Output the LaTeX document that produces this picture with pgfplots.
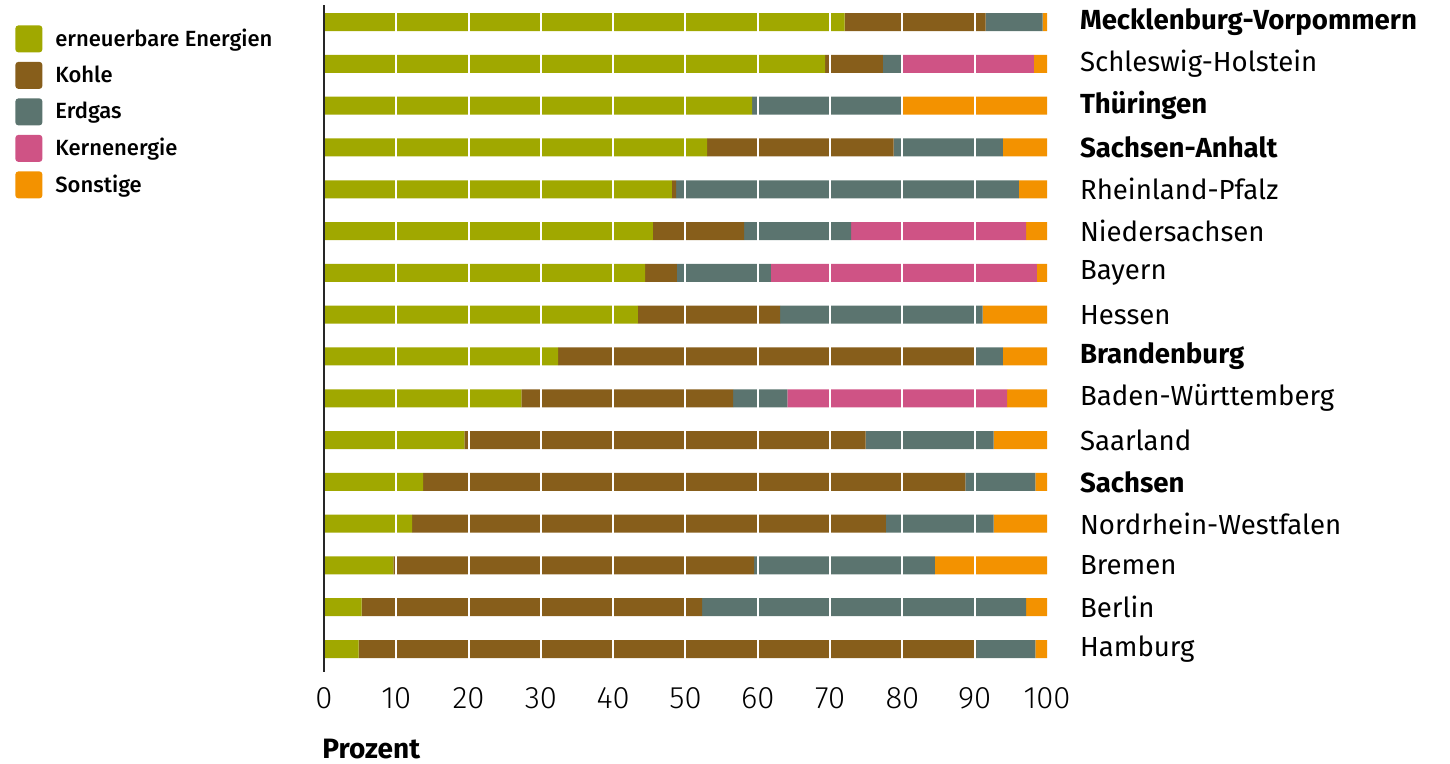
\documentclass[border=0pt]{standalone}
\usepackage{pgfplots}
\pgfplotsset{compat=1.18}
\usepackage{pgfplotstable}
\usepackage{fontspec}
\setmainfont{Fira Sans}
\newfontfamily\fslight{Fira Sans Light}
\newfontfamily\fsmed{Fira Sans Medium}
\definecolor{cEE}{RGB}{160,168,0}
\definecolor{cKohle}{RGB}{135,94,27}
\definecolor{cGas}{RGB}{91,116,111}
\definecolor{cKern}{RGB}{207,83,133}
\definecolor{cSonst}{RGB}{243,146,0}
\pgfplotstableread{
y EE Kohle Gas Kern Sonst
15 72.0 19.5 7.9 0 0.6
14 69.3 8.0 2.7 18.2 1.8
13 59.2 0 20.6 0 20.2
12 53.0 25.8 15.1 0 6.1
11 48.1 0.6 47.4 0 3.9
10 45.5 12.6 14.8 24.2 2.9
9 44.4 4.4 13.0 36.8 1.4
8 43.4 19.7 28.0 0 8.9
7 32.4 57.6 3.9 0 6.1
6 27.3 29.3 7.5 30.4 5.5
5 19.4 55.5 17.7 0 7.4
4 13.7 75.0 9.7 0 1.6
3 12.2 65.5 14.9 0 7.4
2 9.6 49.9 25.0 0 15.5
1 5.2 47.1 44.8 0 2.9
0 4.8 85.4 8.2 0 1.6
}\data
\begin{document}
\begin{tikzpicture}
\begin{axis}[
  xbar stacked,
  scale only axis,
  width=361.5pt, height=333.5pt,
  xmin=0, xmax=100, ymin=-0.55, ymax=15.41,
  bar width=9pt,
  axis on top,
  axis line style={draw=none},
  major tick length=0pt,
  xtick={10,20,...,90},
  extra x ticks={0,100},
  extra x tick style={grid=none},
  xmajorgrids,
  grid style={white, line width=1pt},
  ytick={0,...,15},
  yticklabels={Hamburg, Berlin, Bremen, Nordrhein-Westfalen, {\bfseries Sachsen}, Saarland, Baden-Württemberg, {\bfseries Brandenburg}, Hessen, Bayern, Niedersachsen, Rheinland-Pfalz, {\bfseries Sachsen-Anhalt}, {\bfseries Thüringen}, Schleswig-Holstein, {\bfseries Mecklenburg-Vorpommern}},
  yticklabel pos=right,
  yticklabel style={anchor=west, xshift=13pt, font=\fontsize{13.8}{16}\selectfont},
  xticklabel style={font=\fslight\fontsize{15.5}{17}\selectfont, yshift=-4pt},
  /pgf/number format/assume math mode=true,
  clip=false,
  legend image code/.code={\fill[#1, rounded corners=1.5pt] (0pt,-6.75pt) rectangle (13.5pt,6.75pt);},
  legend style={at={(axis description cs:0,1)}, anchor=north west, xshift=-154.5pt, yshift=-10pt, draw=none, fill=none, font=\fsmed\fontsize{11}{12}\selectfont, row sep=4.75pt, inner sep=0pt, nodes={inner sep=0pt, anchor=west}, /tikz/every odd column/.append style={column sep=6.5pt}},
  legend cell align=left,
]
\addplot[draw=none, fill=cEE] table[x=EE, y=y] {\data};
\addlegendentry{erneuerbare Energien}
\addplot[draw=none, fill=cKohle] table[x=Kohle, y=y] {\data};
\addlegendentry{Kohle}
\addplot[draw=none, fill=cGas] table[x=Gas, y=y] {\data};
\addlegendentry{Erdgas}
\addplot[draw=none, fill=cKern] table[x=Kern, y=y] {\data};
\addlegendentry{Kernenergie}
\addplot[draw=none, fill=cSonst] table[x=Sonst, y=y] {\data};
\addlegendentry{Sonstige}
\coordinate (tl) at (axis description cs:0,1);
\coordinate (bl) at (axis description cs:0,0);
\end{axis}
\draw[black!85, line width=1pt] (bl) -- (tl);
\node[anchor=base west, font=\bfseries\fontsize{14}{16}\selectfont, inner sep=0pt] at ([xshift=-1pt, yshift=-43.5pt]bl) {Prozent};
\path ([xshift=-162pt, yshift=2.5pt]tl) rectangle ([xshift=563pt, yshift=-379.5pt]tl);
\end{tikzpicture}
\end{document}
